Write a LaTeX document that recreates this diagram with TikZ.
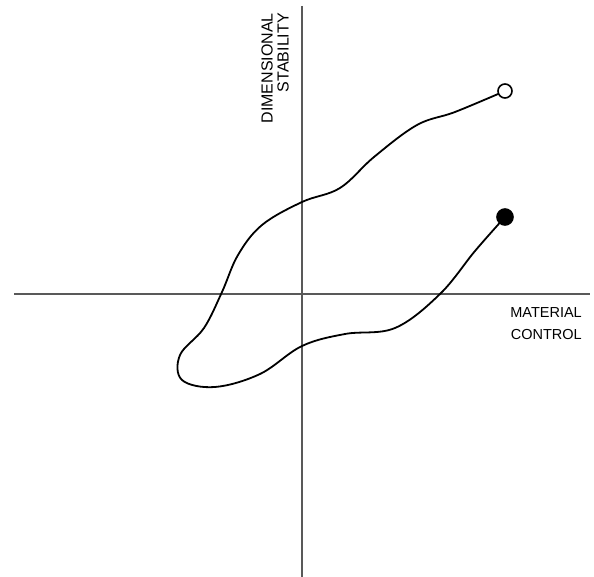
\documentclass[tikz,border=0pt]{standalone}
\usepackage{fontspec}
\setmainfont{Liberation Sans}
\begin{document}
\begin{tikzpicture}[x=1pt,y=-1pt,
  axis/.style={draw=black!65, line width=1.4pt},
  curve/.style={draw=black, line width=1.8pt, line join=round, line cap=round},
  endpt/.style={circle, draw=black, line width=1.6pt, inner sep=0pt},
  lbl/.style={inner sep=0pt, align=right}]
\useasboundingbox (0,0) rectangle (594,577);
\coordinate (yt) at (302,6);
\coordinate (yb) at (302,577);
\coordinate (xl) at (14,294);
\coordinate (xr) at (590,294);
\draw[axis] (yt) -- (yb);
\draw[axis] (xl) -- (xr);
\draw[curve] plot[smooth, tension=0.6] coordinates {
 (505,91) (455,112) (417,125) (374,157) (340,188) (302,202)
 (262,225) (238,255) (222,292) (204,328) (180,355) (182,380)
 (215,387) (260,374) (302,346) (345,334) (395,328) (440,294)
 (475,251) (505,217)};
\node[endpt, fill=white, minimum size=14pt] (open) at (505,91) {};
\node[endpt, fill=black, minimum size=16pt] (filled) at (505,217) {};
\node[lbl, rotate=90, anchor=south east, font=\fontsize{16}{16}\selectfont] (ylab) at (289,13) {DIMENSIONAL\\STABILITY};
\node[lbl, anchor=north east, font=\fontsize{14.5}{22}\selectfont] (xlab) at (582,307) {MATERIAL\\CONTROL};
\end{tikzpicture}
\end{document}
